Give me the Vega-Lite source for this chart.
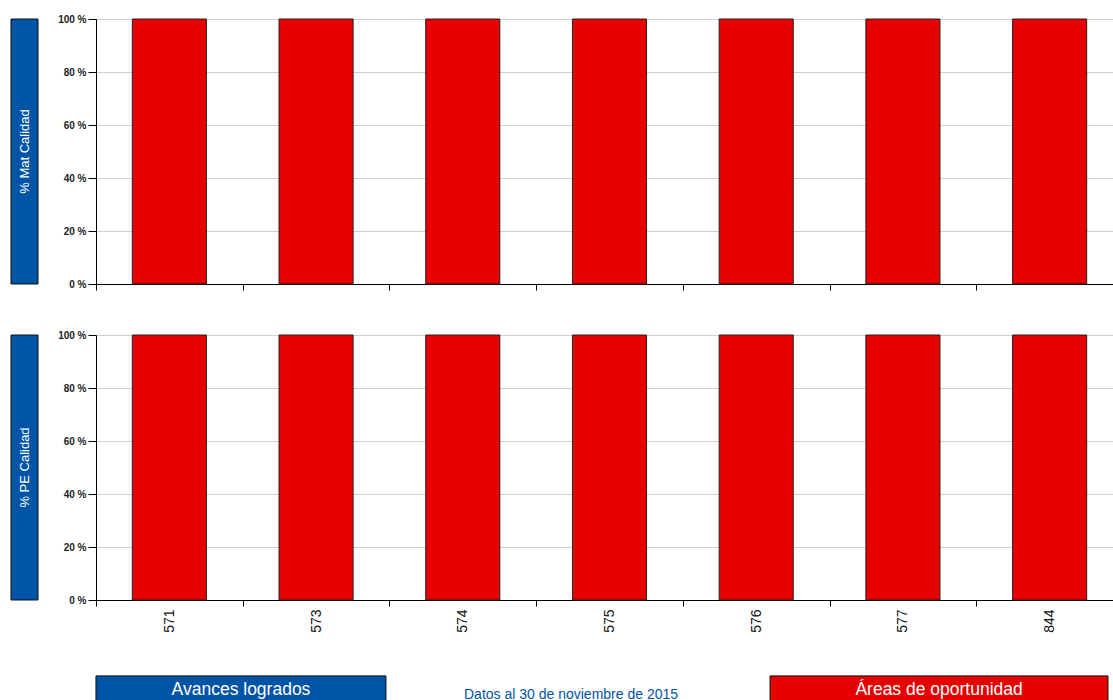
{
  "$schema": "https://vega.github.io/schema/vega-lite/v6.json",
  "background": "white",
  "padding": {"left": 10, "top": 14, "right": 0, "bottom": 0},
  "config": {"view": {"stroke": null}, "font": "Liberation Sans"},
  "datasets": {
    "bars": [
      {"grupo": "571", "metric": "% Mat Calidad", "avances": 0, "areas": 100},
      {"grupo": "573", "metric": "% Mat Calidad", "avances": 0, "areas": 100},
      {"grupo": "574", "metric": "% Mat Calidad", "avances": 0, "areas": 100},
      {"grupo": "575", "metric": "% Mat Calidad", "avances": 0, "areas": 100},
      {"grupo": "576", "metric": "% Mat Calidad", "avances": 0, "areas": 100},
      {"grupo": "577", "metric": "% Mat Calidad", "avances": 0, "areas": 100},
      {"grupo": "844", "metric": "% Mat Calidad", "avances": 0, "areas": 100},
      {"grupo": "571", "metric": "% PE Calidad", "avances": 0, "areas": 100},
      {"grupo": "573", "metric": "% PE Calidad", "avances": 0, "areas": 100},
      {"grupo": "574", "metric": "% PE Calidad", "avances": 0, "areas": 100},
      {"grupo": "575", "metric": "% PE Calidad", "avances": 0, "areas": 100},
      {"grupo": "576", "metric": "% PE Calidad", "avances": 0, "areas": 100},
      {"grupo": "577", "metric": "% PE Calidad", "avances": 0, "areas": 100},
      {"grupo": "844", "metric": "% PE Calidad", "avances": 0, "areas": 100}
    ],
    "paneles": [
      {"metric": "% Mat Calidad", "x0": 0, "x1": 1, "y0": 0, "y1": 100, "xc": 0.5, "yc": 50},
      {"metric": "% PE Calidad", "x0": 0, "x1": 1, "y0": 0, "y1": 100, "xc": 0.5, "yc": 50}
    ],
    "leyenda": [
      {"texto": "Avances logrados", "tipo": "avances", "caja": true, "x0": 0.0764, "x1": 0.3372, "xc": 0.2068},
      {"texto": "Datos al 30 de noviembre de 2015", "tipo": "nota", "caja": false, "x0": 0.5036, "x1": 0.5036, "xc": 0.5036},
      {"texto": "Áreas de oportunidad", "tipo": "areas", "caja": true, "x0": 0.6826, "x1": 0.9865, "xc": 0.8346}
    ]
  },
  "spacing": 39,
  "vconcat": [
    {
      "bounds": "flush",
      "spacing": 58,
      "hconcat": [
        {
          "width": 27, "height": 265,
          "data": {"name": "paneles"},
          "transform": [{"filter": "datum.metric === '% Mat Calidad'"}],
          "layer": [
            {
              "mark": {"type": "rect", "color": "#0054a6", "stroke": "#111", "strokeWidth": 1},
              "encoding": {
                "x": {"field": "x0", "type": "quantitative", "scale": {"domain": [0, 1]}, "axis": null},
                "x2": {"field": "x1"},
                "y": {"field": "y0", "type": "quantitative", "scale": {"domain": [0, 100]}, "axis": null},
                "y2": {"field": "y1"}
              }
            },
            {
              "mark": {"type": "text", "color": "white", "fontSize": 13, "angle": 270, "align": "center", "baseline": "middle"},
              "encoding": {
                "x": {"field": "xc", "type": "quantitative"},
                "y": {"field": "yc", "type": "quantitative"},
                "text": {"field": "metric"}
              }
            }
          ]
        },
        {
          "width": 1027, "height": 265,
          "data": {"name": "bars"},
          "transform": [{"filter": "datum.metric === '% Mat Calidad'"}],
          "mark": {"type": "bar", "color": "#e60000", "stroke": "#222", "strokeWidth": 1, "width": {"band": 0.505}},
          "encoding": {
            "x": {
              "field": "grupo", "type": "nominal", "sort": null,
              "scale": {"paddingInner": 0, "paddingOuter": 0},
              "axis": {"title": null, "labels": false, "tickBand": "extent", "tickSize": 6, "domainColor": "black", "tickColor": "black", "grid": false}
            },
            "y": {
              "field": "areas", "type": "quantitative",
              "scale": {"domain": [0, 100], "nice": false},
              "axis": {"title": null, "values": [0, 20, 40, 60, 80, 100], "labelExpr": "datum.value + ' %'", "labelFontWeight": "bold", "labelFontSize": 10, "labelColor": "#222", "tickSize": 8, "labelPadding": 2, "gridColor": "#d0d0d0", "domainColor": "black", "tickColor": "black"}
            }
          }
        }
      ]
    },
    {
      "bounds": "flush",
      "spacing": 58,
      "hconcat": [
        {
          "width": 27, "height": 265,
          "data": {"name": "paneles"},
          "transform": [{"filter": "datum.metric === '% PE Calidad'"}],
          "layer": [
            {
              "mark": {"type": "rect", "color": "#0054a6", "stroke": "#111", "strokeWidth": 1},
              "encoding": {
                "x": {"field": "x0", "type": "quantitative", "scale": {"domain": [0, 1]}, "axis": null},
                "x2": {"field": "x1"},
                "y": {"field": "y0", "type": "quantitative", "scale": {"domain": [0, 100]}, "axis": null},
                "y2": {"field": "y1"}
              }
            },
            {
              "mark": {"type": "text", "color": "white", "fontSize": 13, "angle": 270, "align": "center", "baseline": "middle"},
              "encoding": {
                "x": {"field": "xc", "type": "quantitative"},
                "y": {"field": "yc", "type": "quantitative"},
                "text": {"field": "metric"}
              }
            }
          ]
        },
        {
          "width": 1027, "height": 265,
          "data": {"name": "bars"},
          "transform": [{"filter": "datum.metric === '% PE Calidad'"}],
          "mark": {"type": "bar", "color": "#e60000", "stroke": "#222", "strokeWidth": 1, "width": {"band": 0.505}},
          "encoding": {
            "x": {
              "field": "grupo", "type": "nominal", "sort": null,
              "scale": {"paddingInner": 0, "paddingOuter": 0},
              "axis": {"title": null, "labelAngle": 270, "labelFontSize": 14, "labelColor": "#111", "labelPadding": 3, "tickBand": "extent", "tickSize": 6, "domainColor": "black", "tickColor": "black", "grid": false}
            },
            "y": {
              "field": "areas", "type": "quantitative",
              "scale": {"domain": [0, 100], "nice": false},
              "axis": {"title": null, "values": [0, 20, 40, 60, 80, 100], "labelExpr": "datum.value + ' %'", "labelFontWeight": "bold", "labelFontSize": 10, "labelColor": "#222", "tickSize": 8, "labelPadding": 2, "gridColor": "#d0d0d0", "domainColor": "black", "tickColor": "black"}
            }
          }
        }
      ]
    },
    {
      "width": 1112, "height": 30,
      "data": {"name": "leyenda"},
      "layer": [
        {
          "transform": [{"filter": "datum.caja"}],
          "mark": {"type": "rect", "stroke": "#111", "strokeWidth": 1},
          "encoding": {
            "x": {"field": "x0", "type": "quantitative", "scale": {"domain": [0, 1]}, "axis": null},
            "x2": {"field": "x1"},
            "y": {"datum": 0, "type": "quantitative", "scale": {"domain": [0, 1]}, "axis": null},
            "y2": {"datum": 0.87},
            "color": {"field": "tipo", "type": "nominal", "scale": {"domain": ["avances", "areas"], "range": ["#0054a6", "#e60000"]}, "legend": null}
          }
        },
        {
          "transform": [{"filter": "datum.caja"}],
          "mark": {"type": "text", "color": "white", "fontSize": 17.5, "align": "center", "baseline": "middle"},
          "encoding": {
            "x": {"field": "xc", "type": "quantitative"},
            "y": {"datum": 0.4, "type": "quantitative"},
            "text": {"field": "texto"}
          }
        },
        {
          "transform": [{"filter": "!datum.caja"}],
          "mark": {"type": "text", "color": "#0054a6", "fontSize": 14, "align": "center", "baseline": "middle"},
          "encoding": {
            "x": {"field": "xc", "type": "quantitative"},
            "y": {"datum": 0.23, "type": "quantitative"},
            "text": {"field": "texto"}
          }
        }
      ]
    }
  ]
}
